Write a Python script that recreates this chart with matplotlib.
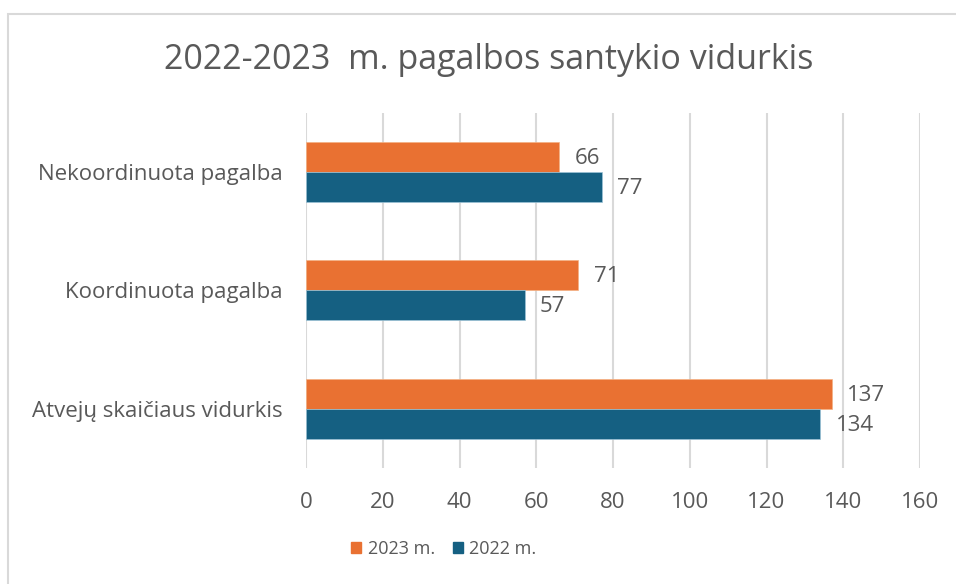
#!/usr/bin/env python3

# Horizontal grouped bar chart: 2022-2023 m. pagalbos santykio vidurkis.

import matplotlib.pyplot as plt
from matplotlib.patches import Rectangle, Patch

categories = ['Atvejų skaičiaus vidurkis', 'Koordinuota pagalba', 'Nekoordinuota pagalba']
values_2023 = [137, 71, 66]
values_2022 = [134, 57, 77]
series_names = ['2023 m.', '2022 m.']
x_ticks = [0, 20, 40, 60, 80, 100, 120, 140, 160]

ORANGE = '#E97132'
BLUE = '#156082'
GREY = '#595959'
GRID = '#D9D9D9'

plt.rcParams['font.family'] = ['Open Sans', 'DejaVu Sans']

fig = plt.figure(figsize=(9.56, 5.84), dpi=100)
ax = fig.add_axes([0.3201, 0.1986, 0.6423, 0.6083])

# chart frame, like the Excel chart border
fig.patches.append(Rectangle((8 / 956, -0.05), 1.0, 1 - 14 / 584 + 0.05,
                             transform=fig.transFigure, fill=False,
                             edgecolor='#D9D9D9', linewidth=1.5))

h = 0.253
ypos = list(range(len(categories)))
b23 = ax.barh([y + h / 2 for y in ypos], values_2023, height=h, color=ORANGE,
              edgecolor='#F4B183', linewidth=0.5, zorder=3)
b22 = ax.barh([y - h / 2 for y in ypos], values_2022, height=h, color=BLUE,
              edgecolor='#9DC3D6', linewidth=0.5, zorder=3)

for bars, vals in ((b23, values_2023), (b22, values_2022)):
    for bar, v in zip(bars, vals):
        ax.annotate(str(v), (v, bar.get_y() + bar.get_height() / 2),
                    xytext=(11, -1), textcoords='offset points',
                    ha='left', va='center', fontsize=16, color=GREY)

ax.set_xlim(0, 160)
ax.set_ylim(-0.5, len(categories) - 0.5)
ax.set_xticks(x_ticks)
ax.set_xticklabels([str(t) for t in x_ticks])
ax.set_yticks(ypos)
ax.set_yticklabels(categories)
ax.tick_params(axis='both', length=0, labelsize=16, labelcolor=GREY)
ax.tick_params(axis='x', pad=17)
ax.tick_params(axis='y', pad=16.5)
ax.grid(axis='x', color=GRID, linewidth=1.5, zorder=0)
ax.set_axisbelow(True)
for s in ax.spines.values():
    s.set_visible(False)

fig.text(489 / 956, 1 - 60 / 584, '2022-2023  m. pagalbos santykio vidurkis',
         ha='center', va='center', fontsize=24.5, color=GREY)

handles = [Patch(color=ORANGE), Patch(color=BLUE)]
fig.legend(handles, series_names, loc='center', bbox_to_anchor=(444 / 956, 1 - 549 / 584),
           ncol=2, frameon=False, labelcolor=GREY, fontsize=13,
           handlelength=0.55, handleheight=0.55, handletextpad=0.35, columnspacing=1.0)

plt.savefig('out.png', dpi=100)
